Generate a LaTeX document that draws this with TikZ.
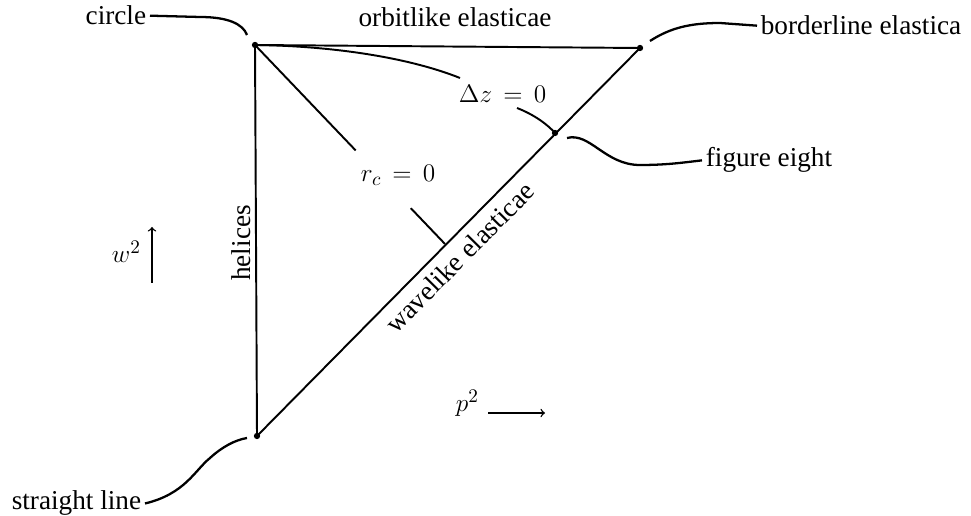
\documentclass[tikz,border=0pt]{standalone}
\usepackage{amsmath,amssymb}
\usepackage{fontspec}
\setmainfont{Liberation Serif}
\usepackage{tikz}

\begin{document}
\begin{tikzpicture}[x=0.02cm, y=-0.02cm,
    font=\fontsize{15.5}{18}\selectfont,
    edge/.style={line width=1.1pt},
    leader/.style={line width=1.3pt},
    axis/.style={->, line width=0.8pt},
    lbl/.style={inner sep=2pt, anchor=base west}]
    \useasboundingbox (0,0) rectangle (971,516);
    % corners of the region
    \coordinate (C) at (255,45);
    \coordinate (B) at (640,48);
    \coordinate (S) at (257,436);
    \coordinate (F) at (555,133);
    \coordinate (T) at (445,244);
    \draw[edge] (C) -- (B) -- (S) -- cycle;
    \foreach \p in {C,B,S,F} \fill (\p) circle (1.8pt);
    % curves r_c = 0 and Delta z = 0
    \path (C) -- (T) coordinate[pos=0.53] (ra) coordinate[pos=0.82] (rb);
    \draw[edge] (C) -- (ra) (rb) -- (T);
    \coordinate (da) at (460,78);
    \coordinate (db) at (517,108);
    \draw[edge] (C) .. controls (335,46) and (410,58) .. (da);
    \draw[edge] (db) .. controls (535,115) and (548,125) .. (F);
    \node[lbl] (rc) at (357,182) {$r_c\,=\,0$};
    \node[lbl] (dz) at (455,103) {$\Delta z\,=\,0$};
    % edge labels
    \node[inner sep=2pt, anchor=base] (orbit) at (455,27) {orbitlike elasticae};
    \node[inner sep=2pt, anchor=base, rotate=90] (hel) at (250,243) {helices};
    \node[inner sep=2pt, anchor=north, rotate=45.3] (wave) at (450,248) {wavelike elasticae};
    % special points
    \node[inner sep=2pt, anchor=base east] (circ) at (150,25) {circle};
    \node[inner sep=2pt, anchor=base west] (bord) at (757,35) {borderline elastica};
    \node[inner sep=2pt, anchor=base west] (fig) at (702,167) {figure eight};
    \node[inner sep=2pt, anchor=base east] (str) at (145,510) {straight line};
    \coordinate (cl) at (247,35);
    \coordinate (bl) at (650,41);
    \coordinate (fl) at (567,138);
    \coordinate (sl) at (247,438);
    \draw[leader] (circ.east) -- (200,17) .. controls (228,17) and (243,24) .. (cl);
    \draw[leader] (bl) .. controls (670,28) and (690,23) .. (720,23) -- (bord.west);
    \draw[leader] (fl) .. controls (590,132) and (605,165) .. (640,165) .. controls (665,165) and (680,163) .. (fig.west);
    \draw[leader] (str.east) .. controls (185,494) and (195,470) .. (210,458) .. controls (222,447) and (235,440) .. (sl);
    % axes
    \node[lbl] (w) at (108,263) {$w^2$};
    \node[lbl] (p) at (452,412) {$p^2$};
    \coordinate (wa) at (152,283);
    \coordinate (wb) at (152,227);
    \coordinate (pa) at (488,413);
    \coordinate (pb) at (545,413);
    \draw[axis] (wa) -- (wb);
    \draw[axis] (pa) -- (pb);
\end{tikzpicture}
\end{document}
